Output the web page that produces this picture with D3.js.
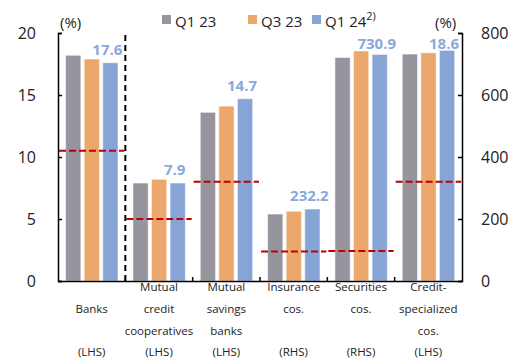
<!DOCTYPE html>
<html><head><meta charset="utf-8">
<script src="https://cdn.jsdelivr.net/npm/d3@7"></script>
<style>body{margin:0;background:#fff}svg{display:block;font-family:"Open Sans","Noto Sans",sans-serif}</style>
</head><body><svg id="c" width="509" height="360"></svg>
<script>
const categories = ["Banks","Mutual credit cooperatives","Mutual savings banks","Insurance cos.","Securities cos.","Credit-specialized cos."];
const catLines = [["","Banks",""],["Mutual","credit","cooperatives"],["Mutual","savings","banks"],["Insurance","cos.",""],["Securities","cos.",""],["Credit-","specialized","cos."]];
const axisSide = ["LHS","LHS","LHS","RHS","RHS","LHS"];
const series = ["Q1 23","Q3 23","Q1 24"];
const q1_23 = [18.2, 7.9, 13.6, 216, 721, 18.3];
const q3_23 = [17.9, 8.2, 14.1, 225, 742, 18.4];
const q1_24 = [17.6, 7.9, 14.7, 232.2, 730.9, 18.6];
const valueLabels = ["17.6","7.9","14.7","232.2","730.9","18.6"];
const thresholds = [10.5, 5.0, 8.0, 95, 97, 8.0];
const leftTicks = [0,5,10,15,20];
const rightTicks = [0,200,400,600,800];
const colors = ["#96959e","#eca76c","#87a4d7"];

const svg = d3.select("#c");
const L = 58, R = 462, T = 33, B = 281;
const x = d3.scaleBand().domain(categories).range([L,R]).padding(0);
const xs = d3.scaleBand().domain(series).range([7.6, 60]).paddingInner(0.18);
const yL = d3.scaleLinear().domain([0,20]).range([B,T]);
const yR = d3.scaleLinear().domain([0,800]).range([B,T]);
const vals = [q1_23,q3_23,q1_24];
const yOf = i => axisSide[i]==="RHS" ? yR : yL;

// bars
series.forEach((s,si)=>{
  svg.append("g").selectAll("rect").data(categories).join("rect")
    .attr("x",(c)=>x(c)+xs(s))
    .attr("width",xs.bandwidth())
    .attr("y",(c,i)=>yOf(i)(vals[si][i]))
    .attr("height",(c,i)=>B-yOf(i)(vals[si][i]))
    .attr("fill",colors[si])
    .attr("stroke","#ffffff").attr("stroke-opacity",0.5).attr("stroke-width",1);
});

// threshold red dashed lines
svg.append("g").selectAll("line").data(categories).join("line")
  .attr("x1",c=>x(c)+1).attr("x2",c=>x(c)+x.bandwidth()-1)
  .attr("y1",(c,i)=>yOf(i)(thresholds[i])).attr("y2",(c,i)=>yOf(i)(thresholds[i]))
  .attr("stroke","#c00000").attr("stroke-width",2).attr("stroke-dasharray","7,3");

// black dashed divider
svg.append("line").attr("x1",x(categories[1])).attr("x2",x(categories[1]))
  .attr("y1",T+2).attr("y2",B).attr("stroke","#000").attr("stroke-width",2).attr("stroke-dasharray","6,4");

// value labels
svg.append("g").selectAll("text").data(categories).join("text")
  .attr("x",c=>x(c)+xs("Q1 24")+xs.bandwidth()/2-3)
  .attr("y",(c,i)=>Math.max(yOf(i)(q1_24[i])-8, 49))
  .attr("text-anchor","middle").attr("font-size",15).attr("font-weight","bold")
  .attr("fill","#8aa8dc").text((c,i)=>valueLabels[i]);

// axes
const gL = svg.append("g").attr("transform",`translate(${L},0)`)
  .call(d3.axisLeft(yL).tickValues(leftTicks).tickSize(-4).tickPadding(22).tickSizeOuter(-4));
const gR = svg.append("g").attr("transform",`translate(${R},0)`)
  .call(d3.axisRight(yR).tickValues(rightTicks).tickSize(-4).tickPadding(19).tickSizeOuter(-4));
const gB = svg.append("g").attr("transform",`translate(0,${B})`)
  .call(d3.axisBottom(x).tickValues(categories.slice(1)).tickSize(-4).tickSizeOuter(0).tickFormat(""));
gB.selectAll(".tick").attr("transform",c=>`translate(${x(c)},0)`);
[gL,gR,gB].forEach(g=>{
  g.selectAll("path,line").attr("stroke","#000").attr("stroke-width",1.5);
  g.selectAll("text").attr("font-size",16).attr("fill","#222").attr("font-family","'Open Sans','Noto Sans',sans-serif");
});

// units
svg.append("text").attr("x",60).attr("y",28).attr("font-size",15).attr("fill","#222").text("(%)");
svg.append("text").attr("x",435).attr("y",28).attr("font-size",15).attr("fill","#222").text("(%)");

// category labels
const lineY = [291,313,335];
categories.forEach((c,i)=>{
  const cx = x(c)+x.bandwidth()/2;
  catLines[i].forEach((t,k)=>{
    if(!t) return;
    svg.append("text").attr("x",cx).attr("y",lineY[k]).attr("text-anchor","middle")
      .attr("font-size",11.5).attr("fill","#222").text(t);
  });
  svg.append("text").attr("x",cx).attr("y",356).attr("text-anchor","middle")
    .attr("font-size",11.5).attr("fill","#222").text("("+axisSide[i]+")");
});

// legend
const legX = [162,248,312];
series.forEach((s,i)=>{
  svg.append("rect").attr("x",legX[i]).attr("y",15).attr("width",9).attr("height",9).attr("fill",colors[i]);
  const t = svg.append("text").attr("x",legX[i]+13).attr("y",27).attr("font-size",15).attr("fill","#222").text(s);
  if(i===2) t.append("tspan").attr("dy",-7).attr("font-size",11).text("2)");
});
</script></body></html>
